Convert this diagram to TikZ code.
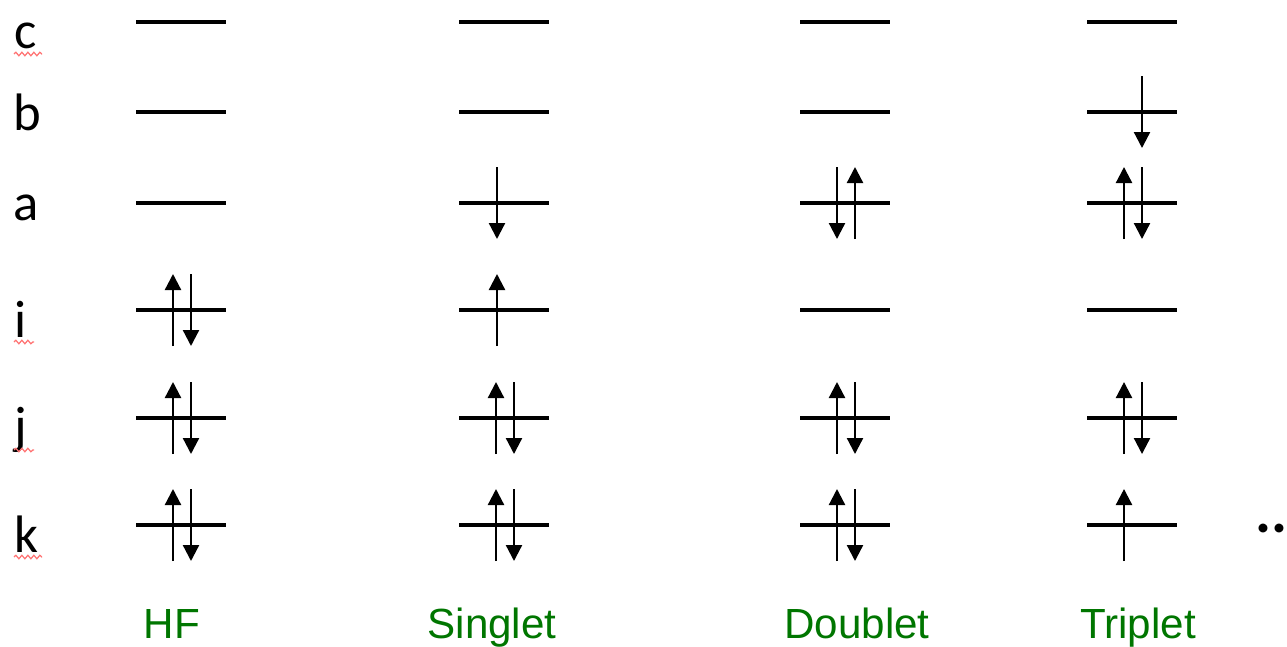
\documentclass[tikz,border=0pt]{standalone}
\usepackage{fontspec}
\usetikzlibrary{arrows.meta,decorations.pathmorphing}
\newfontfamily\orbfont{Carlito}
\newfontfamily\statefont{Liberation Sans}
\definecolor{stategreen}{RGB}{0,118,0}

\tikzset{
  orbital/.style={line width=2.3pt},
  spin/.style={line width=1.3pt,-{Triangle[width=0.32cm,length=0.32cm]}},
  orblabel/.style={anchor=base west,inner sep=0pt,font=\orbfont\fontsize{30}{36}\selectfont},
  statelabel/.style={anchor=base,inner sep=0pt,text=stategreen,font=\statefont\fontsize{24}{28}\selectfont},
  squiggle/.style={red!55,line width=0.7pt,decorate,decoration={snake,amplitude=0.035cm,segment length=0.12cm}}
}
% one electron on the level at height #2
\newcommand{\spinup}[2]{\draw[spin] (#1,#2+36) -- (#1,#2-36);}
\newcommand{\spindown}[2]{\draw[spin] (#1,#2-36) -- (#1,#2+36);}
\newcommand{\spinpair}[2]{\spinup{#1-8}{#2}\spindown{#1+10}{#2}}

\begin{document}
\begin{tikzpicture}[x=0.02cm,y=-0.02cm]
  \useasboundingbox (0,0) rectangle (1287,646);

  % orbital labels
  \node[orblabel] (lc) at (14,48) {c};
  \node[orblabel] (lb) at (13,130) {b};
  \node[orblabel] (la) at (13,220) {a};
  \node[orblabel] (li) at (14,337) {i};
  \node[orblabel] (lj) at (14,443) {j};
  \node[orblabel] (lk) at (14,552) {k};
  \draw[squiggle] (14,54) -- (42,54);
  \draw[squiggle] (14,342) -- (34,342);
  \draw[squiggle] (14,450) -- (34,450);
  \draw[squiggle] (14,557) -- (42,557);

  % levels c, b, a, i, j, k in each column
  \foreach \cx in {181,504,845,1132}
    \foreach \ly in {22,112,203,310,418,525}
      \draw[orbital] (\cx-45,\ly) -- (\cx+45,\ly);

  % HF
  \spinpair{181}{310}
  \spinpair{181}{418}
  \spinpair{181}{525}
  % Singlet
  \spindown{497}{203}
  \spinup{497}{310}
  \spinpair{504}{418}
  \spinpair{504}{525}
  % Doublet
  \spindown{837}{203}
  \spinup{855}{203}
  \spinpair{845}{418}
  \spinpair{845}{525}
  % Triplet
  \spindown{1142}{112}
  \spinpair{1132}{203}
  \spinpair{1132}{418}
  \spinup{1124}{525}

  \node[anchor=base west,inner sep=0pt,font=\orbfont\bfseries\fontsize{34}{40}\selectfont] (more) at (1255,532) {..};

  % states
  \node[statelabel] (hf) at (172,638) {HF};
  \node[statelabel] (singlet) at (492,638) {Singlet};
  \node[statelabel] (doublet) at (857,638) {Doublet};
  \node[statelabel] (triplet) at (1138,638) {Triplet};
\end{tikzpicture}
\end{document}
